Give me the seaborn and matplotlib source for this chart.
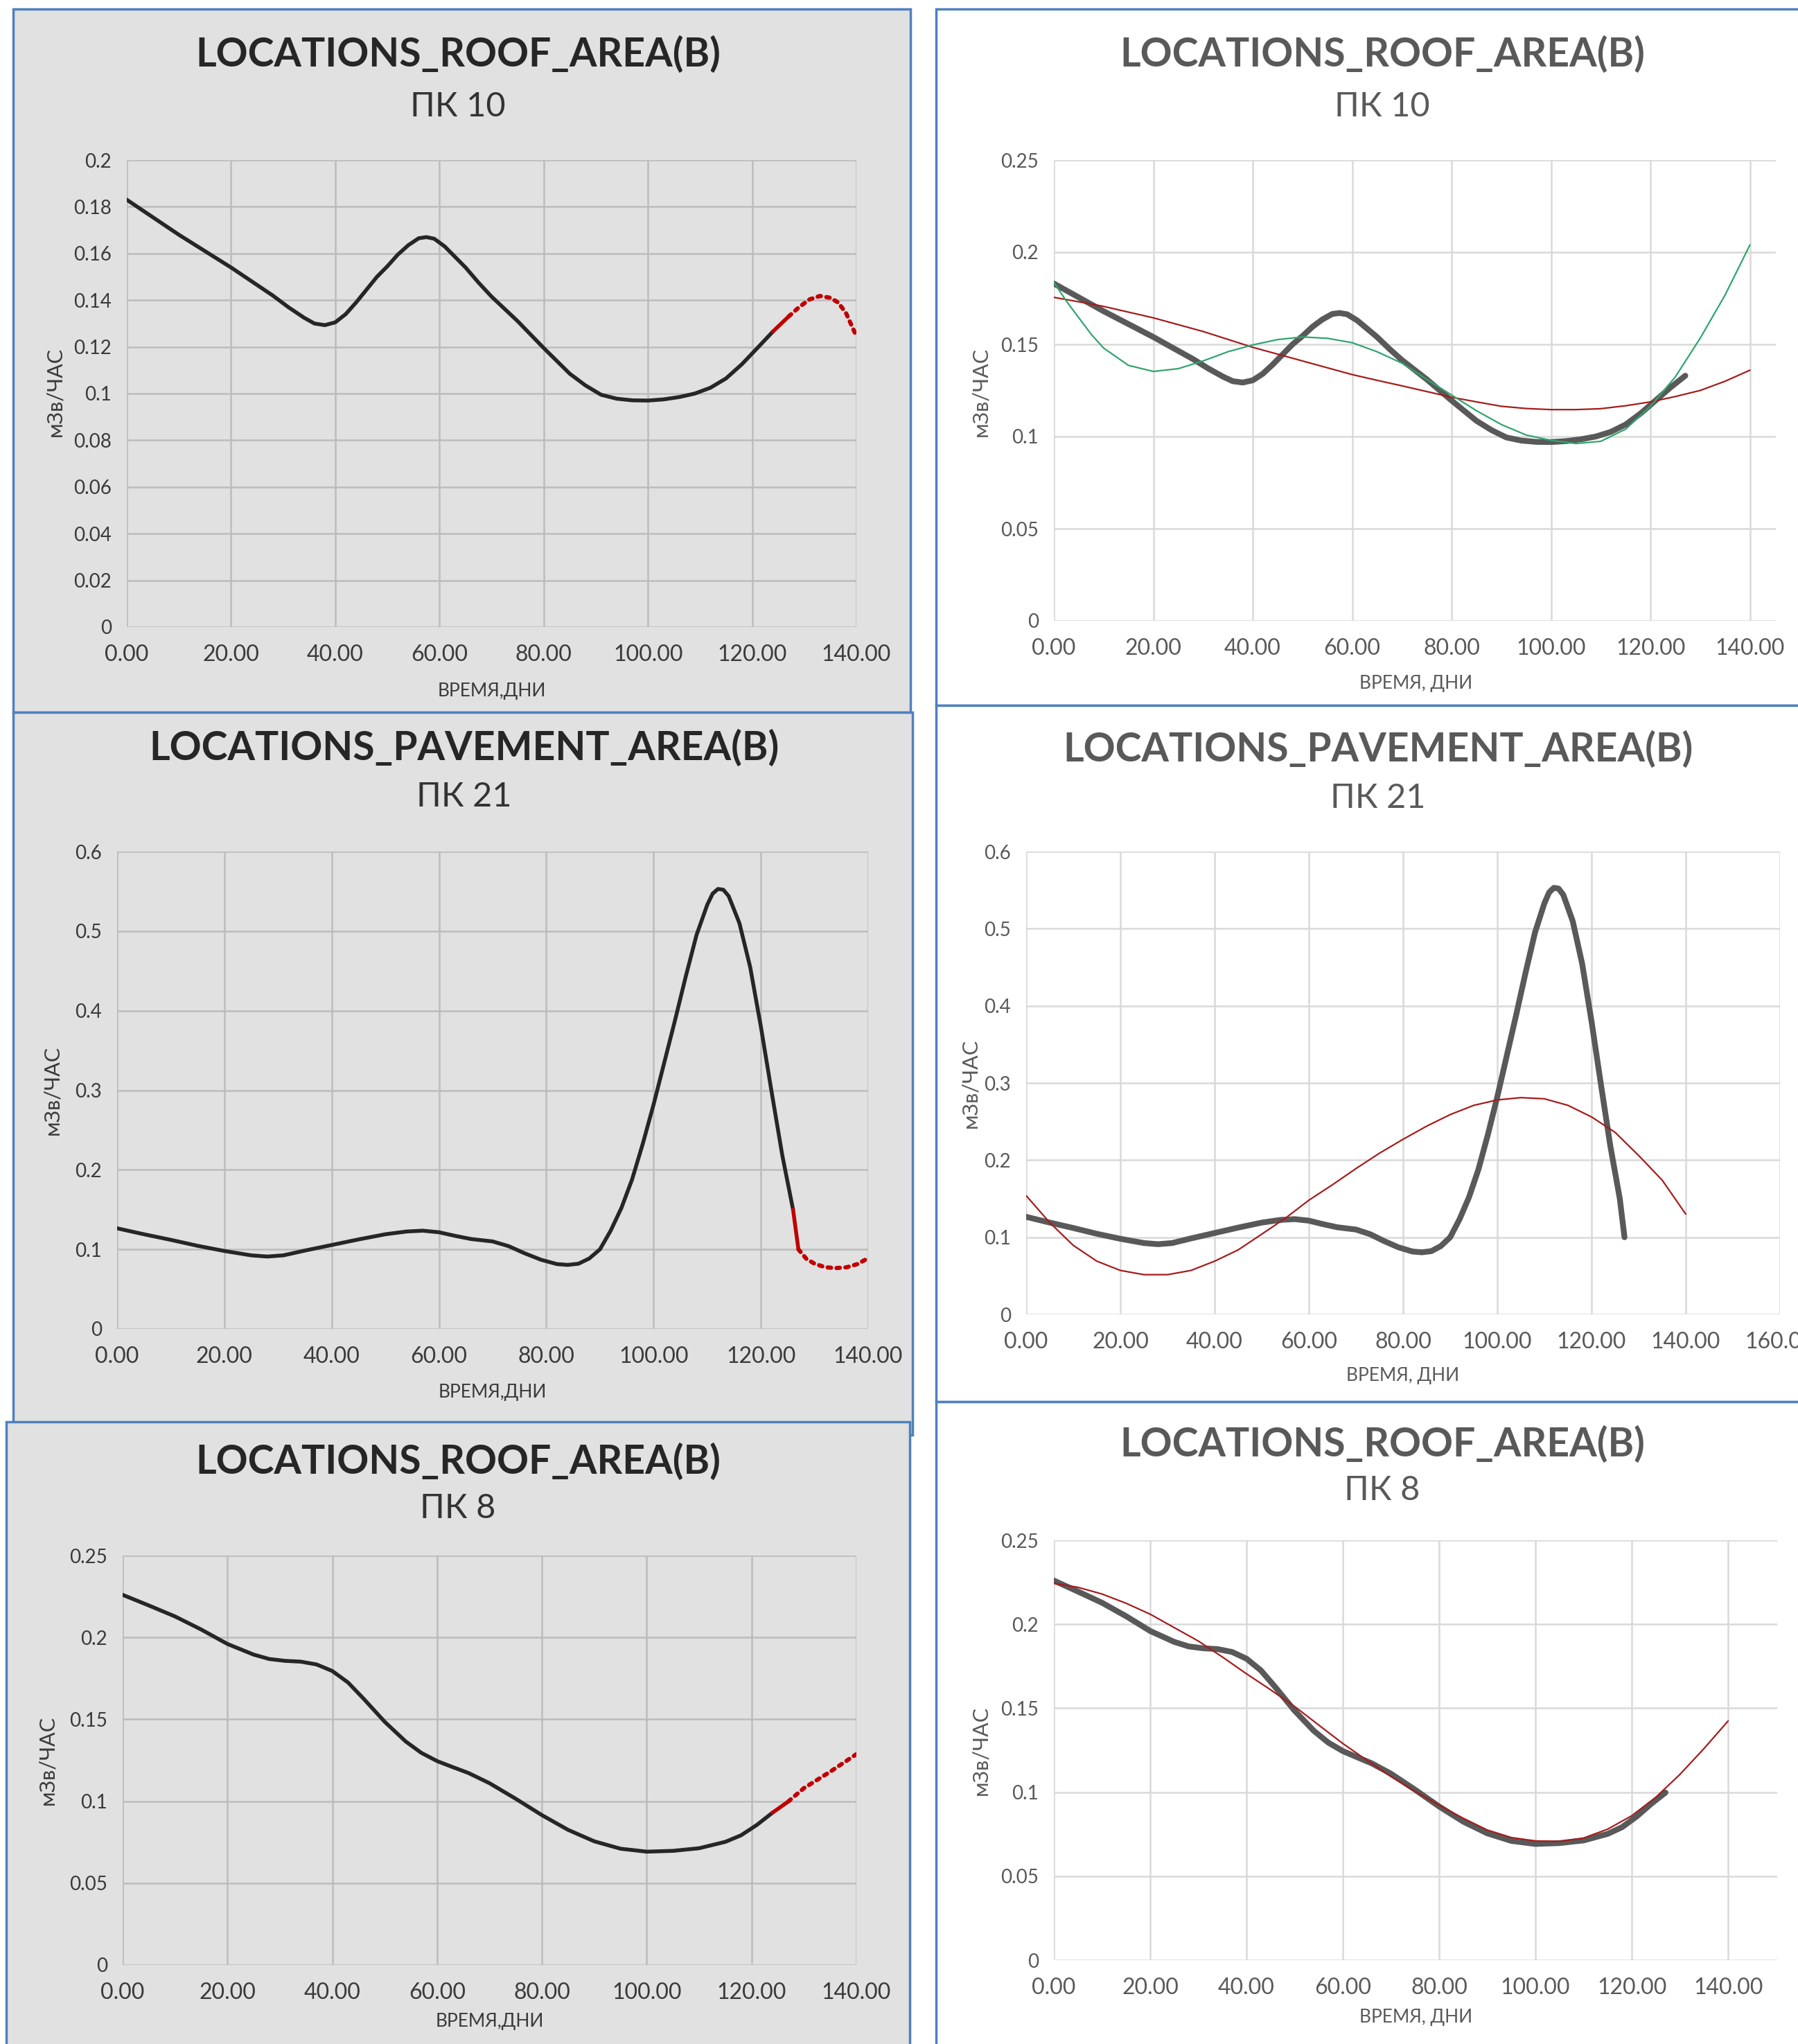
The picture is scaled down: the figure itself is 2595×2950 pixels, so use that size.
import matplotlib
matplotlib.use("Agg")
import matplotlib.pyplot as plt
from matplotlib.patches import Rectangle
from matplotlib.ticker import FuncFormatter
import seaborn as sns

# ---------------- data ----------------
# ПК 10, roof area - measured
days_pk10 = [0, 5, 10, 15, 20, 25, 28, 31, 34, 36, 38, 40, 42, 44, 46, 48, 50, 52, 54, 56,
             57.5, 59, 61, 63, 65, 67.5, 70, 75, 80, 85, 88, 91, 94, 97, 100, 103, 106,
             109, 112, 115, 118, 121, 124, 127]
dose_pk10 = [0.183, 0.1755, 0.168, 0.161, 0.154, 0.1465, 0.142, 0.137, 0.1325, 0.130,
             0.1293, 0.1305, 0.134, 0.139, 0.1445, 0.150, 0.1545, 0.1595, 0.1635, 0.1665,
             0.167, 0.1663, 0.163, 0.1585, 0.154, 0.1475, 0.1415, 0.131, 0.1195, 0.1085,
             0.1035, 0.0995, 0.0978, 0.0971, 0.097, 0.0975, 0.0985, 0.100, 0.1025, 0.1065,
             0.1125, 0.1195, 0.1266, 0.133]
fc_days_pk10 = [127, 129, 131, 133, 135, 136.5, 138, 140]
fc_dose_pk10 = [0.133, 0.137, 0.1403, 0.1418, 0.141, 0.139, 0.1345, 0.1246]
trend_days_pk10 = [0, 2.5, 5, 7.5, 10, 15, 20, 25, 30, 35, 40, 45, 50, 55, 60, 65, 70, 75,
                   80, 85, 90, 95, 100, 105, 110, 115, 120, 125, 130, 135, 140]
green_pk10 = [0.1837, 0.1735, 0.1645, 0.1555, 0.148, 0.1386, 0.1353, 0.1368, 0.141, 0.146,
              0.1497, 0.1526, 0.154, 0.1533, 0.1509, 0.146, 0.1398, 0.131, 0.1225, 0.114,
              0.1065, 0.1008, 0.0979, 0.0962, 0.0974, 0.104, 0.1164, 0.1324, 0.1534,
              0.1768, 0.204]
red_pk10 = [0.1755, 0.1743, 0.1731, 0.1719, 0.1706, 0.1675, 0.1644, 0.1607, 0.157, 0.1527,
            0.1484, 0.1447, 0.141, 0.1373, 0.1336, 0.1305, 0.1275, 0.1244, 0.1213, 0.1188,
            0.1164, 0.1152, 0.1146, 0.1146, 0.1151, 0.1167, 0.1188, 0.1217, 0.125, 0.130,
            0.136]

# ПК 21, pavement area - measured
days_pk21 = [0, 5, 10, 15, 20, 25, 28, 31, 35, 40, 45, 50, 54, 57, 60, 63, 66, 70, 73, 76,
             79, 82, 84, 86, 88, 90, 92, 94, 96, 98, 100, 102, 104, 106, 108, 110, 111,
             112, 113, 114, 116, 118, 120, 122, 124, 126, 127]
dose_pk21 = [0.1265, 0.119, 0.112, 0.1045, 0.098, 0.0925, 0.091, 0.0925, 0.0985, 0.1055,
             0.1125, 0.119, 0.1225, 0.1235, 0.1215, 0.117, 0.113, 0.110, 0.104, 0.095,
             0.087, 0.0815, 0.0805, 0.082, 0.0885, 0.100, 0.1235, 0.152, 0.188, 0.233,
             0.282, 0.335, 0.388, 0.443, 0.495, 0.533, 0.547, 0.553, 0.552, 0.544, 0.510,
             0.455, 0.380, 0.298, 0.218, 0.150, 0.100]
fc_days_pk21 = [127, 128.5, 130, 132, 134, 136, 138, 140]
fc_dose_pk21 = [0.100, 0.088, 0.082, 0.0775, 0.0765, 0.0775, 0.0815, 0.089]
trend_days_pk21 = [0, 5, 10, 15, 20, 25, 30, 35, 40, 45, 50, 55, 60, 65, 70, 75, 80, 85,
                   90, 95, 100, 105, 110, 115, 120, 125, 130, 135, 140]
red_pk21 = [0.154, 0.119, 0.0895, 0.069, 0.057, 0.0515, 0.0515, 0.057, 0.069, 0.0836,
            0.104, 0.1246, 0.148, 0.168, 0.189, 0.209, 0.227, 0.244, 0.259, 0.271, 0.278,
            0.281, 0.2795, 0.271, 0.256, 0.236, 0.206, 0.174, 0.130]

# ПК 8, roof area - measured
days_pk8 = [0, 5, 10, 15, 20, 25, 28, 31, 34, 37, 40, 43, 46, 50, 54, 57, 60, 63, 66, 70,
            75, 80, 85, 90, 95, 100, 105, 110, 115, 118, 121, 124, 127]
dose_pk8 = [0.226, 0.2195, 0.2128, 0.2048, 0.196, 0.1895, 0.1868, 0.1857, 0.1852, 0.1835,
            0.1795, 0.1725, 0.1625, 0.1485, 0.1365, 0.1295, 0.1245, 0.1208, 0.1172, 0.111,
            0.1015, 0.0915, 0.0825, 0.0755, 0.071, 0.0692, 0.0697, 0.0713, 0.0752, 0.0792,
            0.0855, 0.093, 0.0998]
fc_days_pk8 = [127, 130, 135, 140]
fc_dose_pk8 = [0.0998, 0.108, 0.118, 0.1287]
trend_days_pk8 = [0, 5, 10, 15, 20, 25, 30, 35, 40, 45, 50, 55, 60, 65, 70, 75, 80, 85,
                  90, 95, 100, 105, 110, 115, 120, 125, 130, 135, 140]
red_pk8 = [0.2243, 0.222, 0.218, 0.2125, 0.206, 0.198, 0.190, 0.1805, 0.1705, 0.161,
           0.151, 0.140, 0.129, 0.119, 0.1093, 0.1005, 0.0922, 0.0845, 0.0775, 0.073,
           0.071, 0.0707, 0.0727, 0.078, 0.086, 0.097, 0.1106, 0.126, 0.1424]

title_roof = "LOCATIONS_ROOF_AREA(B)"
title_pave = "LOCATIONS_PAVEMENT_AREA(B)"
ylab = "мЗв/ЧАС"
xlab_left = "ВРЕМЯ,ДНИ"
xlab_right = "ВРЕМЯ, ДНИ"

# ---------------- figure ----------------
sns.set_style("white")
plt.rcParams['font.family'] = ['Lato', 'DejaVu Sans']

W, H = 2595, 2950
fig = plt.figure(figsize=(W / 100, H / 100), dpi=100)
BLUE = '#4f81bd'


def panel(l, t, r, b, face):
    fig.patches.append(Rectangle((l / W, 1 - b / H), (r - l) / W, (b - t) / H,
                                 transform=fig.transFigure, facecolor=face,
                                 edgecolor=BLUE, lw=2.5, zorder=-10))


def make_ax(l, t, r, b):
    return fig.add_axes([l / W, 1 - b / H, (r - l) / W, (b - t) / H])


def txt(x, y, s, **kw):
    fig.text(x / W, 1 - y / H, s, ha='center', va='center', **kw)


def style_ax(ax, xlim, xticks, ylim, yticks, face, grid, tickcol):
    ax.set_facecolor(face)
    ax.set_xlim(*xlim)
    ax.set_ylim(*ylim)
    ax.set_xticks(xticks)
    ax.set_yticks(yticks)
    ax.xaxis.set_major_formatter(FuncFormatter(lambda v, p: f"{v:.2f}"))
    ax.yaxis.set_major_formatter(FuncFormatter(lambda v, p: f"{v:g}"))
    ax.grid(True, color=grid, lw=1.8)
    for s in ax.spines.values():
        s.set_visible(False)
    ax.tick_params(axis='x', length=5, width=1.8, color=grid, pad=13,
                   labelsize=23, labelcolor=tickcol)
    ax.tick_params(axis='y', length=5, width=1.8, color=grid, pad=11,
                   labelsize=20, labelcolor=tickcol)
    ax.set_xlabel("")
    ax.set_ylabel("")
    ax.set_axisbelow(True)


LEFT_BG, LEFT_GRID, LEFT_TXT = '#e1e1e1', '#bcbcbc', '#3a3a3a'
RIGHT_BG, RIGHT_GRID, RIGHT_TXT = 'white', '#d9d9d9', '#595959'
OBS = '#262626'
FC = '#c00000'
THICK = '#595959'
TR_RED = '#a51c1c'
TR_GREEN = '#2fa56f'

# panel frames
panel(19, 13, 1314, 1028, LEFT_BG)
panel(19, 1028, 1317, 2071, LEFT_BG)
panel(9, 2052, 1313, 2990, LEFT_BG)
panel(1351, 13, 2640, 1018, RIGHT_BG)
panel(1351, 1018, 2640, 2023, RIGHT_BG)
panel(1351, 2023, 2640, 2990, RIGHT_BG)

LINE_KW = dict(solid_joinstyle='round', solid_capstyle='round')


def left_chart(box, yl, yt, days, dose, red_from, fdays, fdose, title, sub,
               cx, ty, sy, xly, yly, ylx):
    ax = make_ax(*box)
    style_ax(ax, (0, 140), range(0, 141, 20), yl, yt, LEFT_BG, LEFT_GRID, LEFT_TXT)
    n = days.index(red_from)
    sns.lineplot(x=days[:n + 1], y=dose[:n + 1], ax=ax, color=OBS, lw=4, **LINE_KW)
    sns.lineplot(x=days[n:], y=dose[n:], ax=ax, color=FC, lw=4, **LINE_KW)
    sns.lineplot(x=fdays, y=fdose, ax=ax, color=FC, lw=4.4,
                 linestyle=(0, (0.8, 1.3)), dash_capstyle='round')
    txt(cx, ty, title, fontsize=41, fontweight='bold', color='#262626')
    txt(cx, sy, sub, fontsize=35, color='#333333')
    txt((box[0] + box[2]) / 2, xly, xlab_left, fontsize=19, color=LEFT_TXT)
    txt(ylx, yly, ylab, fontsize=22, color=LEFT_TXT, rotation=90)
    return ax


def right_chart(box, xl, xt, yl, yt, days, dose, trends, title, sub, cx, ty, sy, xlx, xly, yly, ylx):
    ax = make_ax(*box)
    style_ax(ax, xl, xt, yl, yt, RIGHT_BG, RIGHT_GRID, RIGHT_TXT)
    sns.lineplot(x=days, y=dose, ax=ax, color=THICK, lw=6, **LINE_KW)
    for td, tv, col in trends:
        sns.lineplot(x=td, y=tv, ax=ax, color=col, lw=1.6, **LINE_KW)
    txt(cx, ty, title, fontsize=41, fontweight='bold', color=RIGHT_TXT)
    txt(cx, sy, sub, fontsize=35, color=RIGHT_TXT)
    txt(xlx, xly, xlab_right, fontsize=19, color=RIGHT_TXT)
    txt(ylx, yly, ylab, fontsize=22, color=RIGHT_TXT, rotation=90)
    return ax


# left column
left_chart((183, 231, 1236, 905), (0, 0.2), [i * 0.02 for i in range(11)],
           days_pk10, dose_pk10, 124, fc_days_pk10, fc_dose_pk10,
           title_roof, "ПК 10", 661, 79, 154, 997, 565, 79)
left_chart((169, 1229, 1253, 1918), (0, 0.6), [i * 0.1 for i in range(7)],
           days_pk21, dose_pk21, 126, fc_days_pk21, fc_dose_pk21,
           title_pave, "ПК 21", 670, 1080, 1150, 2010, 1573, 75)
left_chart((177, 2245, 1236, 2836), (0, 0.25), [i * 0.05 for i in range(6)],
           days_pk8, dose_pk8, 124, fc_days_pk8, fc_dose_pk8,
           title_roof, "ПК 8", 661, 2110, 2177, 2917, 2540, 68)

# right column
right_chart((1521, 231, 2563, 896), (0, 145.2), range(0, 141, 20), (0, 0.25),
            [i * 0.05 for i in range(6)], days_pk10, dose_pk10,
            [(trend_days_pk10, red_pk10, TR_RED), (trend_days_pk10, green_pk10, TR_GREEN)],
            title_roof, "ПК 10", 1995, 79, 154, 2044, 986, 565, 1415)
right_chart((1481, 1229, 2569, 1897), (0, 160), range(0, 161, 20), (0, 0.6),
            [i * 0.1 for i in range(7)], days_pk21, dose_pk21,
            [(trend_days_pk21, red_pk21, TR_RED)],
            title_pave, "ПК 21", 1989, 1082, 1152, 2025, 1985, 1563, 1400)
right_chart((1521, 2223, 2565, 2829), (0, 150.2), range(0, 141, 20), (0, 0.25),
            [i * 0.05 for i in range(6)], days_pk8, dose_pk8,
            [(trend_days_pk8, red_pk8, TR_RED)],
            title_roof, "ПК 8", 1995, 2085, 2151, 2044, 2911, 2526, 1415)

fig.savefig("out.png", dpi=100)
